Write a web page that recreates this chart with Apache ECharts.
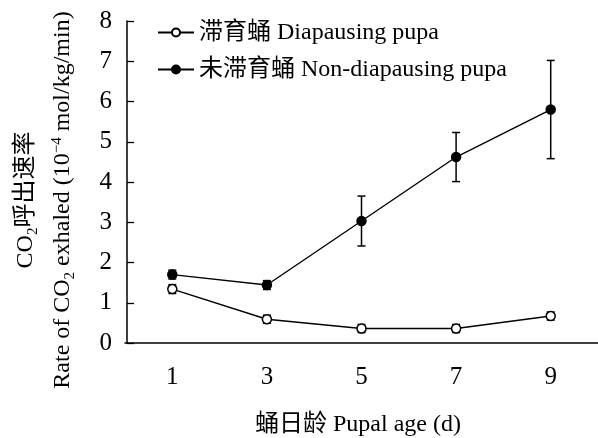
<!DOCTYPE html>
<html>
<head>
<meta charset="utf-8">
<script src="https://cdn.jsdelivr.net/npm/echarts@6/dist/echarts.min.js"></script>
<style>html,body{margin:0;padding:0;background:#fff;}#c{width:598px;height:438px;}</style>
</head>
<body>
<div id="c"></div>
<script>
const categories = ['1', '3', '5', '7', '9'];
const yTicks = [0, 1, 2, 3, 4, 5, 6, 7, 8];
const seriesNames = ['滞育蛹 Diapausing pupa', '未滞育蛹 Non-diapausing pupa'];
const diapMean = [1.34, 0.59, 0.36, 0.36, 0.67];
const diapErr = [0.11, 0.10, 0.10, 0.10, 0.10];
const nonMean = [1.70, 1.44, 3.03, 4.62, 5.80];
const nonErr = [0.11, 0.11, 0.62, 0.61, 1.22];

const FONT = '"Liberation Serif", "Times New Roman", "Noto Sans CJK SC", serif';

function errData(mean, err) {
  return mean.map((m, i) => [i, m - err[i], m + err[i]]);
}
function errRender(params, api) {
  const x = api.value(0);
  const lo = api.coord([x, api.value(1)]);
  const hi = api.coord([x, api.value(2)]);
  const w = 4;
  const st = { stroke: '#000', lineWidth: 1.5 };
  return {
    type: 'group',
    children: [
      { type: 'line', shape: { x1: lo[0], y1: lo[1], x2: hi[0], y2: hi[1] }, style: st },
      { type: 'line', shape: { x1: lo[0] - w, y1: lo[1], x2: lo[0] + w, y2: lo[1] }, style: st },
      { type: 'line', shape: { x1: hi[0] - w, y1: hi[1], x2: hi[0] + w, y2: hi[1] }, style: st }
    ]
  };
}

const chart = echarts.init(document.getElementById('c'), null, { renderer: 'canvas' });
chart.setOption({
  backgroundColor: '#fff',
  animation: false,
  textStyle: { fontFamily: FONT, color: '#000' },
  grid: { left: 125, top: 21, width: 478.5, height: 322, containLabel: false },
  legend: {
    orient: 'vertical',
    left: 152,
    top: 15,
    itemWidth: 36,
    itemHeight: 10,
    itemGap: 12,
    data: seriesNames,
    textStyle: { fontFamily: FONT, fontSize: 24, color: '#000', lineHeight: 25 }
  },
  xAxis: {
    type: 'category',
    data: categories,
    boundaryGap: true,
    axisLine: { lineStyle: { color: '#000', width: 1.5 } },
    axisTick: { inside: true, length: 6, lineStyle: { color: '#000', width: 1.3 } },
    axisLabel: { fontFamily: FONT, fontSize: 25, color: '#000', margin: 22 },
    splitLine: { show: false }
  },
  yAxis: {
    type: 'value',
    min: 0, max: 8, interval: 1,
    offset: -2,
    axisLine: { show: true, lineStyle: { color: '#000', width: 1.5 } },
    axisTick: { show: true, inside: true, length: 7, lineStyle: { color: '#000', width: 1.3 } },
    axisLabel: { fontFamily: FONT, fontSize: 25, color: '#000', margin: 15,
      formatter: v => (yTicks.indexOf(v) >= 0 ? String(v) : '') },
    splitLine: { show: false }
  },
  graphic: [
    {
      type: 'text', x: 26, y: 200, rotation: Math.PI / 2,
      style: {
        text: '{a|CO}{s|2}{a|呼出速率}',
        align: 'center', verticalAlign: 'middle',
        fontFamily: FONT, fill: '#000',
        rich: {
          a: { fontFamily: FONT, fontSize: 24, fill: '#000' },
          s: { fontFamily: FONT, fontSize: 15, fill: '#000', padding: [14, 0, 0, 0] }
        }
      }
    },
    {
      type: 'text', x: 63, y: 200, rotation: Math.PI / 2,
      style: {
        text: '{a|Rate of CO}{s|2}{a| exhaled (10}{p|−4}{a| mol/kg/min)}',
        align: 'center', verticalAlign: 'middle',
        fontFamily: FONT, fill: '#000',
        rich: {
          a: { fontFamily: FONT, fontSize: 24, fill: '#000' },
          s: { fontFamily: FONT, fontSize: 15, fill: '#000', padding: [14, 0, 0, 0] },
          p: { fontFamily: FONT, fontSize: 15, fill: '#000', padding: [0, 0, 12, 0] }
        }
      }
    },
    {
      type: 'text', x: 358, y: 425,
      style: {
        text: '蛹日龄 Pupal age (d)',
        align: 'center', verticalAlign: 'middle',
        fontFamily: FONT, fontSize: 24, fill: '#000'
      }
    }
  ],
  series: [
    {
      type: 'custom', name: 'errDiap', renderItem: errRender,
      data: errData(diapMean, diapErr), z: 1, silent: true
    },
    {
      type: 'custom', name: 'errNon', renderItem: errRender,
      data: errData(nonMean, nonErr), z: 1, silent: true
    },
    {
      type: 'line', name: seriesNames[0], data: diapMean, z: 3,
      symbol: 'circle', symbolSize: 9,
      lineStyle: { color: '#000', width: 1.4 },
      itemStyle: { color: '#fff', borderColor: '#000', borderWidth: 1.5 }
    },
    {
      type: 'line', name: seriesNames[1], data: nonMean, z: 3,
      symbol: 'circle', symbolSize: 9,
      lineStyle: { color: '#000', width: 1.4 },
      itemStyle: { color: '#000', borderColor: '#000', borderWidth: 1.5 }
    }
  ]
});
</script>
</body>
</html>
